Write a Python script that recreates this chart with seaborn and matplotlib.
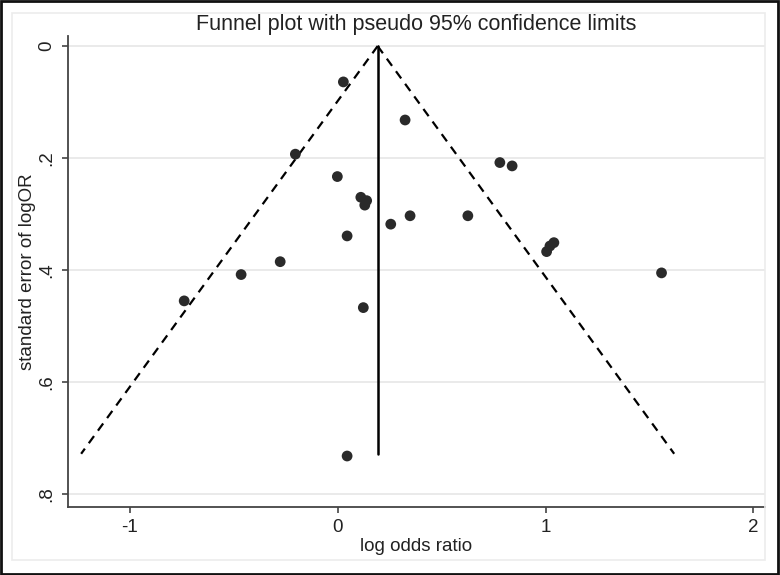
import matplotlib
matplotlib.use("Agg")
import matplotlib.pyplot as plt
import seaborn as sns
import pandas as pd
import numpy as np

# study estimates
log_or = [0.027, -0.204, -0.002, 0.111, 0.139, 0.130, 0.255, 0.045, -0.277, -0.465,
          0.324, 0.780, 0.839, 0.348, 0.626, 1.040, 1.021, 1.005, 1.558, -0.739,
          0.123, 0.045]
se_log_or = [0.064, 0.193, 0.233, 0.270, 0.276, 0.284, 0.318, 0.339, 0.385, 0.408,
             0.132, 0.208, 0.214, 0.303, 0.303, 0.351, 0.357, 0.367, 0.405, 0.455,
             0.467, 0.732]

pooled_log_or = 0.192
max_se = 0.728

x_ticks = [-1, 0, 1, 2]
y_ticks = [0, 0.2, 0.4, 0.6, 0.8]
y_tick_labels = ["0", ".2", ".4", ".6", ".8"]

df = pd.DataFrame({"log_or": log_or, "se": se_log_or})

sns.set_style("white")
plt.rcParams["font.family"] = ["Liberation Sans", "DejaVu Sans"]

fig = plt.figure(figsize=(7.8, 5.75), dpi=100)
ax = fig.add_axes([0.0872, 0.1183, 0.8936, 0.8191])

# pseudo 95% confidence limits
se_line = np.array([0, max_se])
ax.plot(pooled_log_or - 1.96 * se_line, se_line, color="black", lw=1.6, ls=(0, (4, 3)))
ax.plot(pooled_log_or + 1.96 * se_line, se_line, color="black", lw=1.6, ls=(0, (4, 3)))
ax.plot([pooled_log_or, pooled_log_or], se_line, color="black", lw=1.8)

sns.scatterplot(data=df, x="log_or", y="se", ax=ax, color="#2a2a2a",
                s=60, edgecolor="none", zorder=3)

ax.set_xlim(-1.298, 2.056)
ax.set_ylim(0.823, -0.018)
ax.set_xticks(x_ticks)
ax.set_xticklabels([str(t) for t in x_ticks])
ax.set_yticks(y_ticks)
ax.set_yticklabels(y_tick_labels, rotation=90, va="center")

for t in y_ticks:
    ax.axhline(t, color="#e6e6e6", lw=1.2, zorder=0)

for side in ["top", "right"]:
    ax.spines[side].set_visible(False)
for side in ["left", "bottom"]:
    ax.spines[side].set_color("#444444")
    ax.spines[side].set_linewidth(1.3)

ax.tick_params(axis="both", direction="out", length=4, width=1.2, color="#444444",
               labelsize=13.5, pad=5, labelcolor="#222222")
ax.tick_params(axis="x", bottom=True)
ax.tick_params(axis="y", left=True)

ax.set_xlabel("log odds ratio", fontsize=13.5, color="#222222", labelpad=1)
ax.set_ylabel("standard error of logOR", fontsize=13.5, color="#222222", labelpad=2)
ax.set_title("Funnel plot with pseudo 95% confidence limits", fontsize=15.5,
             color="#222222", pad=4)

# light graph region box and dark outer border
fig.patches.append(plt.Rectangle((12 / 780, 15 / 575), 753 / 780, 547 / 575,
                                 transform=fig.transFigure, fill=False,
                                 edgecolor="#ececec", lw=1.2))
fig.patches.append(plt.Rectangle((0.001, 0.002), 0.997, 0.997,
                                 transform=fig.transFigure, fill=False,
                                 edgecolor="#111111", lw=2))

fig.savefig("out.png", dpi=100)
